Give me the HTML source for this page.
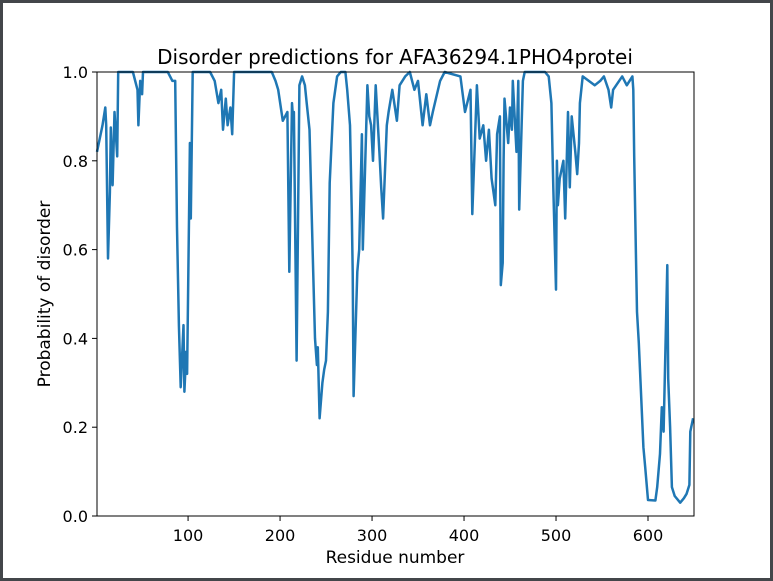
<!DOCTYPE html>
<html><head><meta charset="utf-8">
<style>
html,body{margin:0;padding:0;background:#fff;}
#frame{position:absolute;left:0;top:0;width:773px;height:581px;box-sizing:border-box;border:3px solid #43464a;background:#fff;}
svg{position:absolute;left:0;top:0;}
text{font-family:"DejaVu Sans","Liberation Sans",sans-serif;fill:#000;}
</style></head>
<body>
<div id="frame"></div>
<svg id="chart" width="773" height="581">
  <text x="395" y="64" font-size="20" text-anchor="middle">Disorder predictions for AFA36294.1PHO4protei</text>
  <text x="395" y="563" font-size="17" text-anchor="middle">Residue number</text>
  <text transform="translate(50,294) rotate(-90)" font-size="17" text-anchor="middle">Probability of disorder</text>
  <g id="ticks"></g>
  <path id="line" fill="none" stroke="#1f77b4" stroke-width="2.5" stroke-linejoin="round"></path>
  <rect x="97" y="72" width="597" height="444" fill="none" stroke="#000" stroke-width="1"></rect>
</svg>
<script>
const residues = [1,2,7,10,11,13,15,16,18,20,23,24,40,45,46,48,50,51,78,83,86,88,90,92,95,96,98,99,101,102,103,105,124,129,133,136,138,141,143,146,148,150,191,195,198,203,208,210,213,214,215,218,221,224,227,229,232,236,238,240,241,243,246,248,250,252,254,258,262,266,271,273,276,278,279,280,284,286,289,290,295,297,299,301,304,308,310,312,316,318,322,327,330,336,341,346,350,355,359,363,366,374,379,396,401,407,409,414,417,421,424,427,430,434,436,439,440,442,443,444,448,450,452,453,457,459,460,464,466,488,492,495,496,497,500,501,502,504,508,510,513,515,517,521,523,525,526,529,542,548,552,557,560,562,572,577,583,584,585,587,588,590,595,597,600,608,610,613,615,617,621,622,624,626,629,635,639,642,645,646,649];
const probs = [0.82,0.83,0.88,0.92,0.88,0.58,0.73,0.875,0.745,0.91,0.81,1.0,1.0,0.96,0.88,0.98,0.95,1.0,1.0,0.98,0.98,0.65,0.43,0.29,0.43,0.28,0.37,0.32,0.67,0.84,0.67,1.0,1.0,0.98,0.93,0.96,0.87,0.94,0.88,0.92,0.86,1.0,1.0,0.98,0.96,0.89,0.91,0.55,0.93,0.90,0.91,0.35,0.97,0.99,0.97,0.93,0.87,0.55,0.40,0.34,0.38,0.22,0.30,0.33,0.35,0.46,0.75,0.93,0.99,1.0,1.0,0.96,0.88,0.68,0.55,0.27,0.55,0.60,0.86,0.60,0.97,0.90,0.88,0.80,0.97,0.82,0.74,0.67,0.88,0.91,0.96,0.89,0.97,0.99,1.0,0.96,0.98,0.88,0.95,0.88,0.91,0.98,1.0,0.99,0.91,0.96,0.68,0.97,0.85,0.88,0.80,0.87,0.76,0.70,0.86,0.90,0.52,0.57,0.80,0.94,0.84,0.92,0.87,0.98,0.82,0.98,0.69,0.98,1.0,1.0,0.99,0.93,0.84,0.74,0.51,0.80,0.70,0.76,0.80,0.67,0.91,0.74,0.90,0.82,0.77,0.84,0.93,0.99,0.97,0.98,0.99,0.96,0.92,0.96,0.99,0.97,0.99,0.96,0.81,0.58,0.46,0.39,0.155,0.11,0.036,0.035,0.065,0.14,0.245,0.19,0.565,0.31,0.20,0.065,0.045,0.03,0.04,0.05,0.07,0.19,0.22];
const xTicks = [100,200,300,400,500,600];
const yTicks = [0.0,0.2,0.4,0.6,0.8,1.0];

const X0 = 97, X1 = 694, Y0 = 516, Y1 = 72;
const xMin = 1, xMax = 650;
function xs(r){ return X0 + (r - xMin) / (xMax - xMin) * (X1 - X0); }
function ys(v){ return Y0 - v * (Y0 - Y1); }

const NS = "http://www.w3.org/2000/svg";
const g = document.getElementById('ticks');
xTicks.forEach(t => {
  const l = document.createElementNS(NS, 'line');
  l.setAttribute('x1', xs(t)); l.setAttribute('x2', xs(t));
  l.setAttribute('y1', Y0); l.setAttribute('y2', Y0 + 5);
  l.setAttribute('stroke', '#000');
  
  
  g.appendChild(l);
  const tx = document.createElementNS(NS, 'text');
  tx.setAttribute('x', xs(t)); tx.setAttribute('y', Y0 + 25);
  tx.setAttribute('font-size', '16'); tx.setAttribute('text-anchor', 'middle');
  tx.textContent = t;
  
  
  g.appendChild(tx);
});
yTicks.forEach(t => {
  const l = document.createElementNS(NS, 'line');
  l.setAttribute('x1', X0 - 5); l.setAttribute('x2', X0);
  l.setAttribute('y1', ys(t)); l.setAttribute('y2', ys(t));
  l.setAttribute('stroke', '#000');
  
  
  g.appendChild(l);
  const tx = document.createElementNS(NS, 'text');
  tx.setAttribute('x', X0 - 9); tx.setAttribute('y', ys(t) + 6);
  tx.setAttribute('font-size', '16'); tx.setAttribute('text-anchor', 'end');
  tx.textContent = t.toFixed(1);
  
  
  g.appendChild(tx);
});
let d = '';
residues.forEach((r, i) => { d += (i ? 'L' : 'M') + xs(r).toFixed(1) + ',' + ys(probs[i]).toFixed(1); });
document.getElementById('line').setAttribute('d', d);
</script>
</body></html>
